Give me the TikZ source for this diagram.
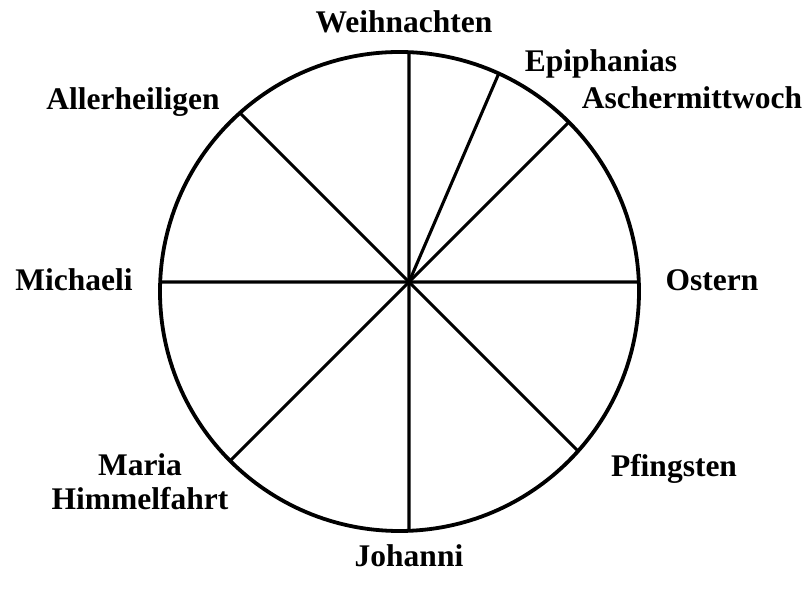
\documentclass[tikz,border=0pt]{standalone}
\usepackage{fontspec}
\setmainfont{Liberation Serif}
\usetikzlibrary{intersections}

\begin{document}
\begin{tikzpicture}[
  x=1pt, y=1pt,
  rim/.style={draw, line width=3.8pt},
  spoke/.style={draw, line width=3.1pt},
  lbl/.style={font=\fontsize{31.5}{34}\selectfont\bfseries, inner sep=0pt, align=center}
]
\useasboundingbox (0,0) rectangle (806,592);

\coordinate (ctr) at (399.5,300.5);
\coordinate (hub) at (409,310);

\path[name path=rimpath] (ctr) circle[radius=239.5];

% spokes from the hub to the rim
\foreach \ang/\nm in {90/wei, 66.7/epi, 45/asc, 0/ost, -45/pfi, -90/joh, -135/mar, 180/mic, 135/all} {
  \path[name path=ray-\nm] (hub) -- ++(\ang:400);
  \path[name intersections={of=rimpath and ray-\nm, by={e-\nm}}];
  \draw[spoke] (hub) -- (e-\nm);
}
\draw[rim] (ctr) circle[radius=239.5];

\node[lbl, anchor=base] (wei) at (404,559) {Weihnachten};
\node[lbl, anchor=base] (epi) at (601,520) {Epiphanias};
\node[lbl, anchor=base] (asc) at (692,483) {Aschermittwoch};
\node[lbl, anchor=base] (all) at (133,482) {Allerheiligen};
\node[lbl, anchor=base] (mic) at (74,301) {Michaeli};
\node[lbl, anchor=base] (ost) at (712,301) {Ostern};
\node[lbl] (mar) at (140,110) {Maria\\Himmelfahrt};
\node[lbl, anchor=base] (pfi) at (674,115) {Pfingsten};
\node[lbl, anchor=base] (joh) at (409,26) {Johanni};
\end{tikzpicture}
\end{document}
